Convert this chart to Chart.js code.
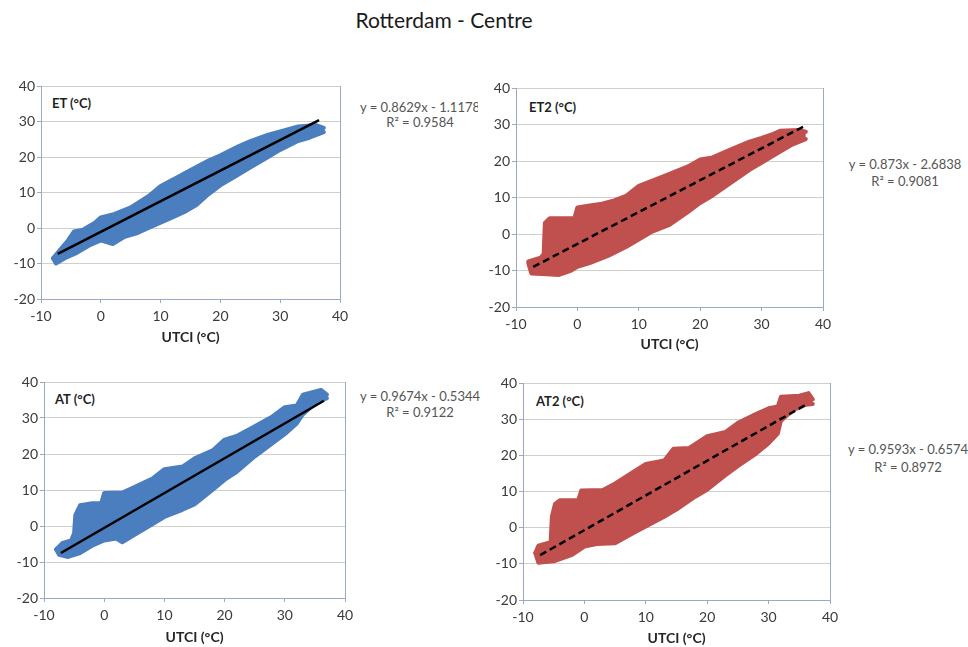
<!DOCTYPE html>
<html><head><meta charset="utf-8">
<script src="https://cdn.jsdelivr.net/npm/chart.js@4"></script>
<style>
html,body{margin:0;padding:0;background:#fff;}
#wrap{position:relative;width:968px;height:647px;overflow:hidden;font-family:Lato,"Open Sans",sans-serif;background:#fff;}
.cv{position:absolute;}
.txt{position:absolute;white-space:nowrap;}
.lab{font-weight:bold;font-size:13px;color:#1f1f1f;}
.eq{font-size:13px;color:#555;text-align:center;}
</style></head><body>
<div id="wrap">
  <div class="txt" style="left:0;width:888px;top:7px;text-align:center;font-size:21px;color:#1a1a1a;">Rotterdam - Centre</div>
  <div class="txt lab" style="left:52px;top:95px;">ET (°C)</div>
  <div class="txt lab" style="left:529px;top:99px;">ET2 (°C)</div>
  <div class="txt lab" style="left:55px;top:391px;">AT (°C)</div>
  <div class="txt lab" style="left:536px;top:393px;">AT2 (°C)</div>
  <div class="txt" style="left:345px;top:100px;width:133px;height:34px;overflow:hidden;">
    <div class="txt eq" style="left:0px;top:0;width:150px;line-height:15px;">y = 0.8629x - 1.1178<br>R² = 0.9584</div>
  </div>
  <div class="txt eq" style="left:830px;top:156px;width:150px;line-height:17px;">y = 0.873x - 2.6838<br>R² = 0.9081</div>
  <div class="txt eq" style="left:345px;top:388px;width:150px;line-height:16px;">y = 0.9674x - 0.5344<br>R² = 0.9122</div>
  <div class="txt eq" style="left:833px;top:440px;width:150px;line-height:18px;">y = 0.9593x - 0.6574<br>R² = 0.8972</div>
</div>
<script>
// ---- data ----
const xTicks = [-10, 0, 10, 20, 30, 40];
const yTicks = [-20, -10, 0, 10, 20, 30, 40];
const xTitle = 'UTCI (°C)';

// ET (blue) : cloud envelope + trendline
const etUpper = [[-8,-8.5],[-7,-6.5],[-5.5,-3.5],[-4.5,-1],[-3,-0.5],[-1,1.5],[0,3],[2,3.8],[5,5.8],[8,9],[10,11.8],[13,14.5],[15,16.3],[18,19],[20,20.5],[23,23],[25,24.5],[28,26.3],[30,27.2],[33,28.6],[36,29],[37.3,28.2]];
const etLower = [[-8,-8.5],[-7.5,-10],[-6,-8.5],[-4,-7],[-2,-5],[0,-3.5],[2,-4.5],[4,-2.5],[6,-1.5],[8,0],[10,1.5],[12,3],[14,4.5],[16,6.5],[18,9.5],[20,12],[22,14],[25,17],[28,20],[30,22],[33,24.5],[35,25.5],[37.3,27]];
const etTrend = [[-7.2,-7.3],[36.5,30.4]];

// ET2 (red)
const et2Upper = [[-8,-7.5],[-6,-6.5],[-5.5,-5.5],[-5.3,3],[-4.5,4.3],[-2,4.3],[-0.5,4.3],[0,7.3],[2,7.8],[4,8.3],[6,9.2],[8,10.5],[10,13.2],[12,14.5],[15,16.5],[18,18.5],[20,20.4],[22,21],[25,23.2],[28,25.3],[30,26.3],[32,27.5],[33,28.3],[36,28.5],[37.2,28]];
const et2Lower = [[-8,-8],[-7.5,-10.8],[-5,-11],[-3,-11.2],[-1,-10],[0,-9],[2,-8],[5,-6],[8,-3.5],[10,-1.5],[12,0.5],[15,2.5],[18,6],[20,8.5],[22,10.5],[25,14],[28,17.5],[30,19.5],[33,22.5],[35,24.5],[37.2,26]];
const et2Trend = [[-7.2,-9.0],[36.8,29.4]];

// AT (blue)
const atUpper = [[-8,-6.5],[-7,-4.8],[-5.5,-4],[-5,-2],[-4.8,3],[-4,5.8],[-2,6.3],[-0.5,6.3],[0,9.2],[3,9.3],[5,10.8],[8,13.2],[10,15.8],[13,16.5],[15,18.8],[18,21],[20,24],[22,25],[25,27.7],[28,30.5],[30,33],[32,33.5],[33,36.5],[36,37.8],[37,36.5]];
const atLower = [[-8,-6.5],[-7.5,-8],[-6,-8.6],[-4,-7.5],[-2,-5.5],[0,-4],[2,-3.5],[3,-4.5],[5,-2.5],[8,0.5],[10,2.5],[13,4.5],[15,6],[18,10],[20,12.8],[22,15],[25,19.3],[28,23],[30,25.5],[32,28.5],[33,31],[35,34],[37,35.5]];
const atTrend = [[-7.2,-7.5],[36.5,34.8]];

// AT2 (red)
const at2Upper = [[-8,-7],[-7.5,-5],[-5.5,-4],[-5.3,3],[-4.8,6.5],[-4,7.6],[-1,7.6],[-0.5,10.3],[3,10.4],[5,12.2],[8,15.5],[10,17.6],[13,18.6],[14.5,21.8],[17,22],[20,25.3],[23,26.5],[25,29],[28,31.5],[30,33],[31.5,33.5],[32,36.2],[35,36.5],[36.5,37.2],[37.2,35.5]];
const at2Lower = [[-8,-7],[-7.5,-9.7],[-5,-9.3],[-2,-7.5],[0,-5.2],[2,-4.5],[5,-4.3],[8,-1.5],[10,0.3],[13,3],[15,5],[18,8.5],[20,10.5],[23,14.5],[25,17],[28,20.5],[30,23.3],[31.5,26],[32,29.5],[34,32.5],[36,34],[37.2,34.2]];
const at2Trend = [[-7.2,-7.6],[36.3,34.2]];

// ---- drawing ----
const BLUE = '#4a7ebf', RED = '#c0504d';
const AXIS = '#9aaac6', GRID = '#cfcfcf', TICK = '#3a3a3a';
const FONT = 'Lato, "Open Sans", sans-serif';
const wrap = document.getElementById('wrap');
const pts = a => a.map(p => ({x: p[0], y: p[1]}));

function makeChart(p) {
  const c = document.createElement('canvas');
  c.width = p.cw; c.height = p.ch;
  c.className = 'cv';
  c.style.left = p.cl + 'px'; c.style.top = p.ct + 'px';
  c.style.width = p.cw + 'px'; c.style.height = p.ch + 'px';
  wrap.appendChild(c);
  new Chart(c, {
    type: 'line',
    data: { datasets: [
      { data: pts(p.trend), borderColor: '#000', borderWidth: 2.5, borderDash: p.dash ? [7, 4] : [], pointRadius: 0, fill: false, tension: 0 },
      { data: pts(p.upper), borderColor: p.color, backgroundColor: p.color, borderWidth: 4, borderJoinStyle: 'round', borderCapStyle: 'round', pointRadius: 0, fill: '+1', tension: 0 },
      { data: pts(p.lower), borderColor: p.color, borderWidth: 4, borderJoinStyle: 'round', borderCapStyle: 'round', pointRadius: 0, fill: false, tension: 0 }
    ]},
    options: {
      responsive: false, animation: false, devicePixelRatio: 1,
      layout: { padding: { left: 0, top: p.padTop, right: p.padRight, bottom: 0 } },
      plugins: { legend: { display: false }, tooltip: { enabled: false }, title: { display: false } },
      scales: {
        x: {
          type: 'linear', min: xTicks[0], max: xTicks[xTicks.length - 1],
          afterBuildTicks: s => { s.ticks = xTicks.map(v => ({value: v})); },
          ticks: { color: TICK, font: { family: FONT, size: 14 }, padding: 5, maxRotation: 0 },
          grid: { drawOnChartArea: true, color: ctx => (ctx.tick && ctx.tick.value === 40) ? AXIS : 'rgba(0,0,0,0)', tickColor: AXIS, tickLength: 4 },
          border: { color: AXIS, width: 1 },
          title: { display: true, text: xTitle, color: '#262626', font: { family: FONT, size: 14, weight: 'bold' }, padding: { top: 0, bottom: p.tpb } },
          afterFit: s => { s.height = p.xh; }
        },
        y: {
          type: 'linear', min: yTicks[0], max: yTicks[yTicks.length - 1],
          afterBuildTicks: s => { s.ticks = yTicks.map(v => ({value: v})); },
          ticks: { color: TICK, font: { family: FONT, size: 14 }, padding: 2 },
          grid: { color: GRID, tickColor: AXIS, tickLength: 4 },
          border: { color: AXIS, width: 1 },
          afterFit: s => { s.width = p.yw; }
        }
      }
    }
  });
}

makeChart({ cl: 0, ct: 70, cw: 480, ch: 280, yw: 41, padTop: 16, padRight: 140, xh: 51, tpb: 4,
  upper: etUpper, lower: etLower, trend: etTrend, color: BLUE, dash: false });
makeChart({ cl: 480, ct: 70, cw: 488, ch: 287, yw: 36, padTop: 18, padRight: 145, xh: 50, tpb: 4,
  upper: et2Upper, lower: et2Lower, trend: et2Trend, color: RED, dash: true });
makeChart({ cl: 0, ct: 365, cw: 480, ch: 282, yw: 44, padTop: 17, padRight: 135, xh: 49, tpb: 1,
  upper: atUpper, lower: atLower, trend: atTrend, color: BLUE, dash: false });
makeChart({ cl: 480, ct: 365, cw: 488, ch: 282, yw: 43, padTop: 18, padRight: 138, xh: 47, tpb: 0,
  upper: at2Upper, lower: at2Lower, trend: at2Trend, color: RED, dash: true });
</script>
</body></html>
